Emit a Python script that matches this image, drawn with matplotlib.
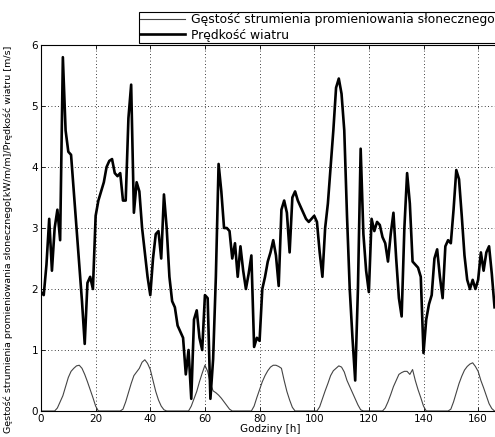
import numpy as np
import matplotlib
matplotlib.use("Agg")
import matplotlib.pyplot as plt

# hourly wind speed [m/s], hours 0..166
wind = [
    1.95, 1.9, 2.4, 3.15, 2.3, 3.0, 3.3, 2.8, 5.8, 4.6, 4.25, 4.2,
    3.6, 3.0, 2.4, 1.8, 1.1, 2.1, 2.2, 2.0, 3.2, 3.45, 3.6, 3.75,
    4.0, 4.1, 4.13, 3.9, 3.85, 3.9, 3.45, 3.45, 4.8, 5.35, 3.25, 3.75,
    3.6, 3.0, 2.6, 2.2, 1.9, 2.5, 2.9, 2.95, 2.5, 3.55, 3.0, 2.2,
    1.8, 1.7, 1.4, 1.3, 1.2, 0.6, 1.0, 0.2, 1.5, 1.65, 1.2, 1.0,
    1.9, 1.85, 0.2, 0.85, 2.2, 4.05, 3.6, 3.0, 3.0, 2.95, 2.5, 2.75,
    2.2, 2.7, 2.3, 2.0, 2.25, 2.55, 1.05, 1.2, 1.15, 2.0, 2.2, 2.45,
    2.6, 2.8, 2.55, 2.05, 3.3, 3.45, 3.25, 2.6, 3.5, 3.6, 3.45, 3.35,
    3.25, 3.15, 3.1, 3.15, 3.2, 3.1, 2.6, 2.2, 3.0, 3.4, 4.0, 4.6,
    5.3, 5.45, 5.2, 4.6, 3.2, 2.0, 1.2, 0.5, 2.0, 4.3, 2.9, 2.3,
    1.95, 3.15, 2.95, 3.1, 3.05, 2.85, 2.75, 2.45, 2.9, 3.25, 2.5, 1.85,
    1.55, 3.0, 3.9, 3.4, 2.45, 2.4, 2.35, 2.2, 0.95, 1.5, 1.75, 1.9,
    2.5, 2.65, 2.2, 1.85, 2.7, 2.8, 2.75, 3.3, 3.95, 3.8, 3.2, 2.55,
    2.15, 2.0, 2.15, 2.0, 2.15, 2.6, 2.3, 2.6, 2.7, 2.25, 1.7,
]

# solar radiation flux density [kW/m/m], hours 0..166
solar = [
    0, 0, 0, 0, 0, 0, 0.05, 0.15, 0.25, 0.4, 0.55, 0.65,
    0.7, 0.74, 0.75, 0.7, 0.6, 0.48, 0.35, 0.22, 0.08, 0, 0, 0,
    0, 0, 0, 0, 0, 0, 0.03, 0.15, 0.3, 0.45, 0.58, 0.64,
    0.7, 0.8, 0.84, 0.78, 0.68, 0.5, 0.32, 0.18, 0.08, 0.02, 0, 0,
    0, 0, 0, 0, 0, 0, 0, 0.08, 0.2, 0.32, 0.48, 0.62,
    0.75, 0.65, 0.45, 0.33, 0.3, 0.26, 0.21, 0.15, 0.09, 0.03, 0, 0,
    0, 0, 0, 0, 0, 0, 0.08, 0.22, 0.35, 0.48, 0.58, 0.66,
    0.72, 0.75, 0.75, 0.73, 0.7, 0.5, 0.32, 0.18, 0.06, 0, 0, 0,
    0, 0, 0, 0, 0, 0, 0.07, 0.2, 0.33, 0.45, 0.58, 0.66,
    0.7, 0.74, 0.72, 0.64, 0.5, 0.4, 0.3, 0.2, 0.1, 0.02, 0, 0,
    0, 0, 0, 0, 0, 0, 0.05, 0.15, 0.27, 0.4, 0.5, 0.6,
    0.63, 0.65, 0.65, 0.6, 0.68, 0.5, 0.35, 0.22, 0.08, 0, 0, 0,
    0, 0, 0, 0, 0, 0, 0.03, 0.15, 0.3, 0.45, 0.57, 0.67,
    0.73, 0.77, 0.79, 0.73, 0.65, 0.5, 0.38, 0.25, 0.12, 0.04, 0,
]

hours = np.arange(len(wind))
xticks = [0, 20, 40, 60, 80, 100, 120, 140, 160]
yticks = [0, 1, 2, 3, 4, 5, 6]

plt.rcParams['font.family'] = ['DejaVu Sans']
plt.rcParams['xtick.direction'] = 'in'
plt.rcParams['ytick.direction'] = 'in'

fig = plt.figure(figsize=(4.95, 4.37), dpi=100)
# axes run a little past the right edge of the picture, like the cropped original
ax = fig.add_axes([41/495, 26/437, 459/495, 366/437])

l1, = ax.plot(hours, solar, color='#444444', lw=0.8,
              label='Gęstość strumienia promieniowania słonecznego')
l2, = ax.plot(hours, wind, color='black', lw=1.9,
              label='Prędkość wiatru')

ax.set_xlim(0, 168)
ax.set_ylim(0, 6)
ax.set_xticks(xticks)
ax.set_yticks(yticks)
ax.tick_params(labelsize=7.5, length=3, width=0.6, pad=2, top=True, right=True)
ax.grid(True, color='black', linestyle=(0, (1, 3)), linewidth=0.6)
for sp in ax.spines.values():
    sp.set_linewidth(0.8)

ax.set_xlabel('Godziny [h]', fontsize=7.5, labelpad=0)
ax.set_ylabel('Gęstość strumienia promieniowania słonecznego[kW/m/m]/Prędkość wiatru [m/s]',
              fontsize=6.8, labelpad=2)
ax.yaxis.set_label_coords(-0.062, 0.47)

leg = fig.legend(handles=[l1, l2], loc='upper left', bbox_to_anchor=(139/495, 1 - 12/437),
                 fontsize=8.9, fancybox=False, framealpha=1, edgecolor='black',
                 handlelength=3.6, borderpad=0.12, labelspacing=0.18, handletextpad=0.45,
                 borderaxespad=0)
leg.get_frame().set_linewidth(0.8)

fig.savefig('out.png', dpi=100)
